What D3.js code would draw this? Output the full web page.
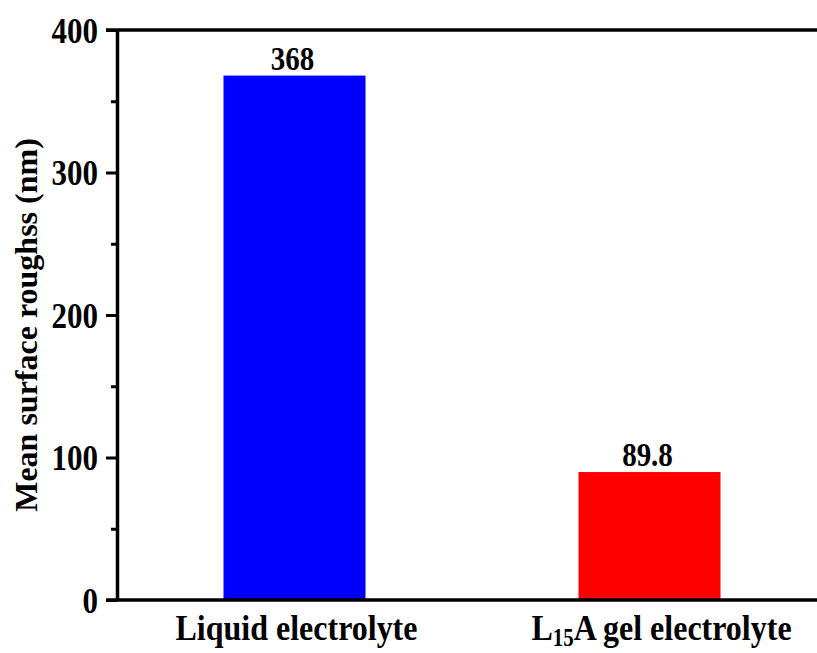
<!DOCTYPE html>
<html>
<head>
<meta charset="utf-8">
<script src="https://cdn.jsdelivr.net/npm/d3@7"></script>
<style>
  body { margin: 0; background: #fff; }
  svg text { font-family: "Liberation Serif", "Times New Roman", serif; font-weight: bold; }
</style>
</head>
<body>
<svg width="817" height="653"></svg>
<script>
var categories = ["Liquid electrolyte", "L15A gel electrolyte"];
var values = [368, 89.8];
var valueLabels = ["368", "89.8"];
var colors = ["#0000ff", "#ff0000"];
var yTicks = [0, 100, 200, 300, 400];
var yMinorTicks = [50, 150, 250, 350];

var svg = d3.select("svg");
var mLeft = 117, mTop = 30, mBottom = 600, mRight = 827;
var stretch = 1.15; // text in the original looks taller than wide

var x = d3.scaleBand().domain(categories).range([mLeft, mRight])
  .paddingInner(0.6).paddingOuter(0.3);
var y = d3.scaleLinear().domain([0, 400]).range([mBottom, mTop]);

// bars
svg.selectAll("rect.bar").data(values).enter()
  .append("rect")
  .attr("class", "bar")
  .attr("x", function(d, i) { return x(categories[i]); })
  .attr("y", function(d) { return y(d); })
  .attr("width", x.bandwidth())
  .attr("height", function(d) { return y(0) - y(d); })
  .style("fill", function(d, i) { return colors[i]; });

// value labels
svg.selectAll("text.val").data(values).enter()
  .append("text")
  .attr("class", "val")
  .attr("transform", function(d, i) {
    return "translate(" + (x(categories[i]) + x.bandwidth() / 2 - 2) + "," + (y(d) - 6) + ") scale(1," + stretch + ")";
  })
  .attr("text-anchor", "middle")
  .attr("font-size", 29)
  .text(function(d, i) { return valueLabels[i]; });

// y axis (major + minor)
var yAxis = svg.append("g").attr("transform", "translate(" + mLeft + ",0)")
  .call(d3.axisLeft(y).tickValues(yTicks).tickSize(11).tickPadding(8).tickSizeOuter(0));
svg.append("g").attr("transform", "translate(" + mLeft + ",0)")
  .call(d3.axisLeft(y).tickValues(yMinorTicks).tickSize(6).tickFormat("").tickSizeOuter(0))
  .select(".domain").remove();
svg.selectAll("g.tick line").attr("stroke", "#000").attr("stroke-width", 3);
yAxis.select(".domain").attr("stroke-width", 3.5);
yAxis.selectAll("text").attr("font-size", 31).attr("fill", "#000")
  .attr("font-family", "Liberation Serif, serif").attr("dy", "0.35em")
  .attr("transform", "scale(1," + stretch + ")");

// x axis line and top frame
var xAxis = svg.append("g").attr("transform", "translate(0," + mBottom + ")")
  .call(d3.axisBottom(x).tickSize(0).tickFormat(""));
xAxis.select(".domain").attr("stroke-width", 3.5).attr("d", "M" + (mLeft - 11) + ",0H817");
svg.append("line").attr("x1", mLeft - 11).attr("x2", 817).attr("y1", mTop).attr("y2", mTop)
  .attr("stroke", "#000").attr("stroke-width", 3.5);

// category labels (with subscript)
xAxis.selectAll(".tick").each(function(d) {
  var sub = d.indexOf("L15A") === 0;
  var t = d3.select(this).append("text")
    .attr("transform", "translate(" + (sub ? 12 : 2) + ",40) scale(1," + stretch + ")")
    .attr("text-anchor", "middle")
    .attr("fill", "#000")
    .attr("font-size", 32);
  if (sub) {
    t.append("tspan").text("L");
    t.append("tspan").text("15").attr("font-size", 21).attr("dy", 5);
    t.append("tspan").text("A" + d.slice(4)).attr("dy", -5);
  } else {
    t.text(d);
  }
});

// y title
svg.append("text")
  .attr("transform", "translate(37," + ((mTop + mBottom) / 2 + 10) + ") rotate(-90)")
  .attr("text-anchor", "middle")
  .attr("font-size", 32)
  .text("Mean surface roughss (nm)");
</script>
</body>
</html>
